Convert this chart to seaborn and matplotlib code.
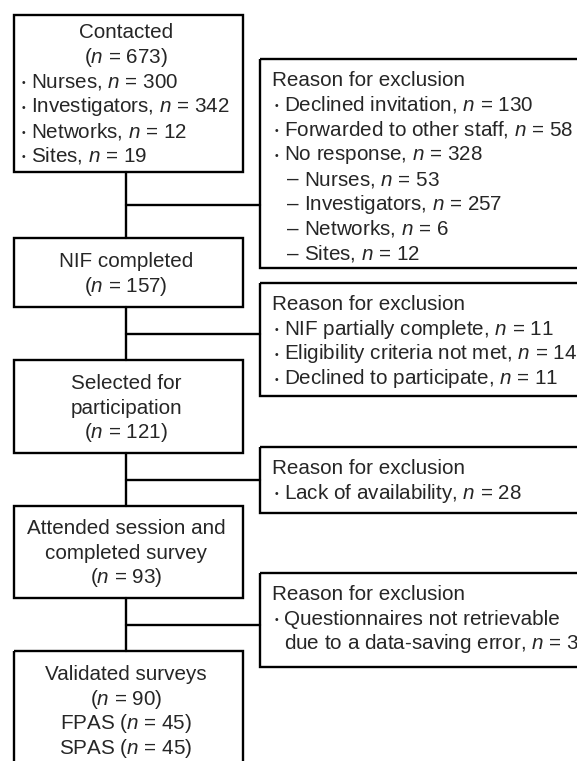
import matplotlib.pyplot as plt
import seaborn as sns
from matplotlib.patches import Rectangle

# ---- data ----
stages = ["Contacted", "NIF completed", "Selected for\nparticipation",
          "Attended session and\ncompleted survey", "Validated surveys"]
stage_n = [673, 157, 121, 93, 90]
contact_groups = ["Nurses", "Investigators", "Networks", "Sites"]
contact_n = [300, 342, 12, 19]
survey_groups = ["FPAS", "SPAS"]
survey_n = [45, 45]

excl1_reasons = ["Declined invitation", "Forwarded to other staff", "No response"]
excl1_n = [130, 58, 328]
noresp_groups = ["Nurses", "Investigators", "Networks", "Sites"]
noresp_n = [53, 257, 6, 12]
excl2_reasons = ["NIF partially complete", "Eligibility criteria not met",
                 "Declined to participate"]
excl2_n = [11, 14, 11]
excl3_reasons = ["Lack of availability"]
excl3_n = [28]
excl4_reasons = ["Questionnaires not retrievable\ndue to a data-saving error"]
excl4_n = [3]

# ---- style ----
sns.set_theme(style="white")
plt.rcParams["font.family"] = ["Liberation Sans", "DejaVu Sans"]
plt.rcParams["mathtext.fontset"] = "custom"
plt.rcParams["mathtext.rm"] = "Liberation Sans"
plt.rcParams["mathtext.it"] = "Liberation Sans:italic"
FS = 14.9
LW = 1.7
PITCH = 24.8


def nstr(v):
    return "$n$ = %d" % v


# main column lines: (text, kind) kind 'c' centred, 'b' bullet
main_lines = []
for i, s in enumerate(stages):
    lines = [(t, "c") for t in s.split("\n")]
    lines.append(("(" + nstr(stage_n[i]) + ")", "c"))
    if i == 0:
        lines += [(g + ", " + nstr(v), "b") for g, v in zip(contact_groups, contact_n)]
    if i == len(stages) - 1:
        lines += [(g + " (" + nstr(v) + ")", "c") for g, v in zip(survey_groups, survey_n)]
    main_lines.append(lines)


# right column lines: kind 'h' heading, 'b' bullet, 'k' continuation, 'd' dash
def excl_lines(reasons, ns, sub=None, sub_n=None):
    out = [("Reason for exclusion", "h")]
    for r, v in zip(reasons, ns):
        parts = r.split("\n")
        parts[-1] = parts[-1] + ", " + nstr(v)
        out.append((parts[0], "b"))
        out += [(p, "k") for p in parts[1:]]
        if sub is not None and r == "No response":
            out += [(g + ", " + nstr(k), "d") for g, k in zip(sub, sub_n)]
    return out


right_lines = [excl_lines(excl1_reasons, excl1_n, noresp_groups, noresp_n),
               excl_lines(excl2_reasons, excl2_n),
               excl_lines(excl3_reasons, excl3_n),
               excl_lines(excl4_reasons, excl4_n)]

# ---- layout (pixels) ----
W, H = 577, 761
mx0, mx1, mcx = 14, 243, 126
m_top = [15, 238, 360, 506, 651]
m_bot = [172, 307, 453, 598, 772]
m_first = [31, 260, 382, 527, 673]
rx0, rx1 = 260, 640
r_top = [59, 283, 447, 573]
r_bot = [268, 396, 513, 667]
r_first = [79, 303, 467, 593]
BASE = 6.8


def bullet(x, y):
    ax.text(x, y - 1.5, "\u2022", ha="center", va="baseline", fontsize=7.5)


fig = plt.figure(figsize=(W / 100, H / 100), dpi=100)
ax = fig.add_axes([0, 0, 1, 1])
ax.set_xlim(0, W)
ax.set_ylim(H, 0)
ax.axis("off")

for i, lines in enumerate(main_lines):
    ax.add_patch(Rectangle((mx0, m_top[i]), mx1 - mx0, m_bot[i] - m_top[i],
                           fill=False, ec="black", lw=LW))
    for j, (t, kind) in enumerate(lines):
        y = m_first[i] + j * PITCH + BASE
        if kind == "c":
            ax.text(mcx, y, t, ha="center", va="baseline", fontsize=FS)
        else:
            bullet(23, y)
            ax.text(31, y, t, ha="left", va="baseline", fontsize=FS)

for i, lines in enumerate(right_lines):
    ax.add_patch(Rectangle((rx0, r_top[i]), rx1 - rx0, r_bot[i] - r_top[i],
                           fill=False, ec="black", lw=LW))
    for j, (t, kind) in enumerate(lines):
        y = r_first[i] + j * PITCH + BASE
        if kind == "h":
            ax.text(272, y, t, ha="left", va="baseline", fontsize=FS)
        elif kind == "b":
            bullet(276, y)
            ax.text(284, y, t, ha="left", va="baseline", fontsize=FS)
        elif kind == "k":
            ax.text(284, y, t, ha="left", va="baseline", fontsize=FS)
        else:
            ax.text(287, y, "\u2013", ha="left", va="baseline", fontsize=FS)
            ax.text(304, y, t, ha="left", va="baseline", fontsize=FS)

# connectors
for i in range(len(m_top) - 1):
    ax.plot([mcx, mcx], [m_bot[i], m_top[i + 1]], color="black", lw=LW)
    ym = (m_bot[i] + m_top[i + 1]) / 2
    ax.plot([mcx, rx0], [ym, ym], color="black", lw=LW)

fig.savefig("out.png", dpi=100)
